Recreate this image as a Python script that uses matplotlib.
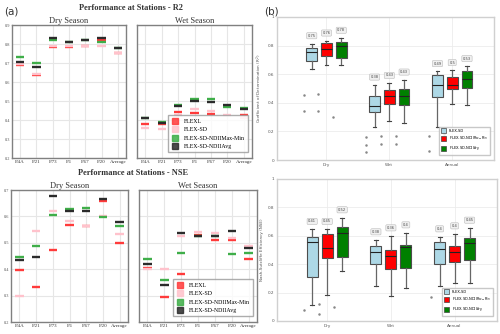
import matplotlib
matplotlib.use('Agg')
import matplotlib.pyplot as plt
from matplotlib.lines import Line2D

# ---------------- data (a) ----------------
stations = ["P.4A", "P.21", "P.73", "P.1", "P.67", "P.20", "Average"]
series_a = ["FLEXL", "FLEX-SD", "FLEX-SD-NDIIMax-Min", "FLEX-SD-NDIIAvg"]

r2_dry_flexl = [0.691, 0.638, 0.785, 0.785, 0.792, 0.823, 0.752]
r2_dry_sd    = [0.695, 0.643, 0.790, 0.790, 0.788, 0.790, 0.755]
r2_dry_mm    = [0.734, 0.700, 0.820, 0.813, 0.820, 0.810, 0.781]
r2_dry_avg   = [0.704, 0.680, 0.833, 0.810, 0.820, 0.833, 0.780]

r2_wet_flexl = [0.380, 0.377, 0.441, 0.438, 0.432, 0.476, 0.424]
r2_wet_sd    = [0.358, 0.352, 0.427, 0.457, 0.445, 0.427, 0.410]
r2_wet_mm    = [0.413, 0.388, 0.478, 0.513, 0.508, 0.471, 0.462]
r2_wet_avg   = [0.411, 0.384, 0.475, 0.499, 0.494, 0.480, 0.457]

nse_dry_flexl = [0.398, 0.331, 0.472, 0.567, 0.563, 0.659, 0.499]
nse_dry_sd    = [0.298, 0.543, 0.620, 0.583, 0.565, 0.600, 0.534]
nse_dry_mm    = [0.445, 0.486, 0.606, 0.629, 0.630, 0.596, 0.565]
nse_dry_avg   = [0.434, 0.448, 0.676, 0.622, 0.622, 0.665, 0.578]

nse_wet_flexl = [0.406, 0.293, 0.381, 0.531, 0.510, 0.510, 0.439]
nse_wet_sd    = [0.402, 0.402, 0.526, 0.541, 0.536, 0.517, 0.489]
nse_wet_mm    = [0.440, 0.359, 0.463, 0.524, 0.524, 0.458, 0.463]
nse_wet_avg   = [0.420, 0.341, 0.538, 0.525, 0.526, 0.543, 0.482]

# ---------------- data (b) ----------------
seasons = ["Dry", "Wet", "Annual"]
series_b = ["FLEX-SD", "FLEX-SD-NDII$_{Max-Min}$", "FLEX-SD-NDII$_{Avg}$"]

# R2 box statistics, per series: [Dry, Wet, Annual]
r2_med   = [[0.758, 0.381, 0.525], [0.779, 0.449, 0.522], [0.800, 0.445, 0.567]]
r2_q1    = [[0.694, 0.339, 0.440], [0.725, 0.395, 0.499], [0.715, 0.388, 0.501]]
r2_q3    = [[0.786, 0.445, 0.595], [0.816, 0.487, 0.579], [0.826, 0.494, 0.624]]
r2_lo    = [[0.633, 0.228, 0.231], [0.666, 0.271, 0.393], [0.666, 0.259, 0.384]]
r2_hi    = [[0.814, 0.525, 0.619], [0.833, 0.536, 0.626], [0.852, 0.560, 0.654]]
r2_lab   = [["0.75", "0.38", "0.49"], ["0.76", "0.43", "0.5"], ["0.78", "0.43", "0.53"]]
r2_out   = [[[0.454, 0.346], [0.162, 0.108, 0.056], [0.17, 0.06]],
            [[0.460, 0.346], [0.170, 0.110], [0.22, 0.18]],
            [[0.300], [0.170, 0.110], []]]

# NSE box statistics
nse_med  = [[0.557, 0.486, 0.509], [0.516, 0.460, 0.486], [0.622, 0.521, 0.552]]
nse_q1   = [[0.310, 0.404, 0.399], [0.444, 0.366, 0.418], [0.451, 0.376, 0.427]]
nse_q3   = [[0.592, 0.530, 0.554], [0.615, 0.500, 0.530], [0.660, 0.538, 0.582]]
nse_lo   = [[0.115, 0.244, 0.246], [0.183, 0.176, 0.270], [0.354, 0.232, 0.268]]
nse_hi   = [[0.646, 0.573, 0.594], [0.646, 0.601, 0.615], [0.728, 0.622, 0.655]]
nse_lab  = [["0.41", "0.38", "0.4"], ["0.45", "0.36", "0.4"], ["0.52", "0.4", "0.45"]]
nse_out  = [[[0.08], [], [0.17]],
            [[0.12, 0.05], [], []],
            [[0.10], [], []]]

# ---------------- style ----------------
W, H = 500, 334
col_a = ["#ff3b3b", "#ffc2cc", "#3fae49", "#2b2b2b"]
col_b = ["#add8e6", "#ff0000", "#008000"]
serif = ["Liberation Serif", "DejaVu Serif"]

fig = plt.figure(figsize=(W / 100, H / 100), dpi=100)


def rect(x0, y0, x1, y1):
    return [x0 / W, 1 - y1 / H, (x1 - x0) / W, (y1 - y0) / H]


def panel_a(r, data, title, ylim, yticks, showy, legend):
    ax = fig.add_axes(rect(*r))
    x = list(range(len(stations)))
    for vals, c in zip(data, col_a):
        ax.hlines(vals, [i - 0.25 for i in x], [i + 0.25 for i in x],
                  colors=c, lw=1.7, zorder=3)
    ax.set_xlim(-0.5, len(stations) - 0.5)
    ax.set_ylim(*ylim)
    ax.set_xticks(x)
    ax.set_xticklabels(stations, fontsize=3.6, family=serif, color="#333")
    ax.set_yticks(yticks)
    if showy:
        ax.set_yticklabels([f"{t:.1f}" for t in yticks], fontsize=3.2,
                           family=serif, color="#555")
    else:
        ax.set_yticklabels([])
    ax.tick_params(length=0, pad=1.5)
    ax.grid(True, color="#e6e6e6", lw=0.8)
    ax.set_axisbelow(True)
    for s in ax.spines.values():
        s.set_color("#808080")
        s.set_linewidth(1.0)
    ax.set_title(title, fontsize=6, family=serif, color="#333", pad=1)
    if legend:
        handles = [Line2D([], [], marker="s", ls="", markersize=4.5,
                          markerfacecolor=c, markeredgecolor=c, alpha=0.85)
                   for c in col_a]
        ax.legend(handles, series_a, loc="lower right",
                  prop={"family": serif, "size": 4.2}, frameon=True,
                  fancybox=False, edgecolor="#999", borderpad=0.6,
                  labelspacing=0.55, handletextpad=0.9, handlelength=1.2,
                  bbox_to_anchor=(0.99, 0.02))
    return ax


yt_r2 = [0.2, 0.3, 0.4, 0.5, 0.6, 0.7, 0.8, 0.9]
yt_nse = [0.2, 0.3, 0.4, 0.5, 0.6, 0.7]

panel_a((12, 25, 126, 158), [r2_dry_flexl, r2_dry_sd, r2_dry_mm, r2_dry_avg],
        "Dry Season", (0.2, 0.9), yt_r2, True, False)
panel_a((137, 25, 252, 158), [r2_wet_flexl, r2_wet_sd, r2_wet_mm, r2_wet_avg],
        "Wet Season", (0.2, 0.9), yt_r2, False, True)
panel_a((11, 190, 128, 322), [nse_dry_flexl, nse_dry_sd, nse_dry_mm, nse_dry_avg],
        "Dry Season", (0.2, 0.7), yt_nse, True, False)
panel_a((139, 190, 257, 322), [nse_wet_flexl, nse_wet_sd, nse_wet_mm, nse_wet_avg],
        "Wet Season", (0.2, 0.7), yt_nse, False, True)

fig.text(131 / W, 1 - 8 / H, "Performance at Stations - R2", ha="center",
         va="center", fontsize=6, family=serif, weight="bold", color="#333")
fig.text(133 / W, 1 - 173 / H, "Performance at Stations - NSE", ha="center",
         va="center", fontsize=6, family=serif, weight="bold", color="#333")
fig.text(4 / W, 1 - 11 / H, "(a)", ha="left", va="center", fontsize=7.5, color="#333")
fig.text(264 / W, 1 - 11 / H, "(b)", ha="left", va="center", fontsize=7.5, color="#333")


def panel_b(r, med, q1, q3, lo, hi, labs, outs, ylabel):
    ax = fig.add_axes(rect(*r))
    offs = [-0.235, 0.0, 0.235]
    for k in range(3):
        stats = []
        pos = []
        for g in range(3):
            stats.append(dict(med=med[k][g], q1=q1[k][g], q3=q3[k][g],
                              whislo=lo[k][g], whishi=hi[k][g], fliers=[]))
            pos.append(g + 1 + offs[k])
        ax.bxp(stats, positions=pos, widths=0.17, patch_artist=True,
               showfliers=False,
               boxprops=dict(facecolor=col_b[k], edgecolor="#4d4d4d", lw=0.8),
               medianprops=dict(color="#222", lw=0.8),
               whiskerprops=dict(color="#666", lw=0.9),
               capprops=dict(color="#444", lw=0.8), capwidths=0.06)
        for g in range(3):
            ax.text(pos[g], hi[k][g] + 0.055, labs[k][g], ha="center",
                    va="center", fontsize=2.6, color="#444",
                    bbox=dict(boxstyle="round,pad=0.3", fc="#f0f0f0",
                              ec="#bbbbbb", lw=0.4))
            ys = outs[k][g]
            ax.plot([pos[g] - 0.13] * len(ys), ys, ls="", marker="o",
                    markersize=0.8, color="#888")
    ax.set_xlim(0.213, 3.665)
    ax.set_ylim(0, 1)
    ax.set_xticks([1, 2, 3])
    ax.set_xticklabels(seasons, fontsize=3, color="#555")
    ax.set_yticks([0, 0.2, 0.4, 0.6, 0.8, 1.0])
    ax.set_yticklabels(["0", "0.2", "0.4", "0.6", "0.8", "1"], fontsize=3,
                       color="#555")
    ax.tick_params(length=0, pad=2)
    ax.grid(True, color="#ececec", lw=0.6)
    ax.set_axisbelow(True)
    for s in ax.spines.values():
        s.set_color("#d0d0d0")
        s.set_linewidth(1.0)
    ax.set_ylabel(ylabel, fontsize=3, color="#555", labelpad=3)
    handles = [Line2D([], [], marker="s", ls="", markersize=3.6,
                      markerfacecolor=c, markeredgecolor="#444",
                      markeredgewidth=0.5) for c in col_b]
    ax.legend(handles, series_b, loc="lower right", fontsize=2.6,
              frameon=True, fancybox=False, edgecolor="#bbb",
              borderpad=0.6, labelspacing=0.55, handletextpad=1.2,
              handlelength=1.0, bbox_to_anchor=(0.99, 0.02))
    return ax


panel_b((277, 17, 494, 160), r2_med, r2_q1, r2_q3, r2_lo, r2_hi, r2_lab, r2_out,
        "Coefficient of Determination (R$^2$)")
panel_b((277, 179, 497, 321), nse_med, nse_q1, nse_q3, nse_lo, nse_hi, nse_lab,
        nse_out, "Nash-Sutcliffe Efficiency (NSE)")

fig.savefig("out.png", dpi=100)
